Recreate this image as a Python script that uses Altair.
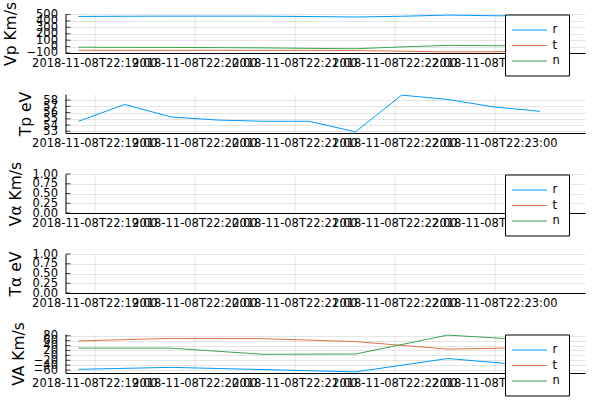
import altair as alt
import pandas as pd

# ---------------- data ----------------
times = [
    "2018-11-08T22:18:50.5", "2018-11-08T22:19:18.2", "2018-11-08T22:19:45.9",
    "2018-11-08T22:20:13.6", "2018-11-08T22:20:41.3", "2018-11-08T22:21:09.0",
    "2018-11-08T22:21:36.7", "2018-11-08T22:22:04.4", "2018-11-08T22:22:32.1",
    "2018-11-08T22:22:59.8", "2018-11-08T22:23:27.5",
]
components = ["r", "t", "n"]
palette = ["#009AFA", "#E36F47", "#3EA44E"]

vp_r = [469, 472, 474, 474, 473, 468, 460, 472, 490, 480, 478]
vp_t = [-57, -58, -58, -59, -60, -60, -62, -72, -83, -80, -78]
vp_n = [-10, -12, -14, -16, -20, -28, -34, -5, 18, 14, 10]

tp = [54.6, 57.3, 55.3, 54.8, 54.6, 54.6, 52.9, 58.8, 58.1, 56.9, 56.2]

va_times = times[::2]
va_r = [-57, -49, -58, -67.5, -13, -45]
va_t = [58.8, 69.4, 68.1, 56.1, 25.5, 32]
va_n = [29.5, 29.5, 4.3, 5.6, 82.7, 60]

vp_ticks = [-100, 0, 100, 200, 300, 400, 500]
tp_ticks = [53, 54, 55, 56, 57, 58]
unit_ticks = [0.0, 0.25, 0.5, 0.75, 1.0]
va_ticks = [-60, -40, -20, 0, 20, 40, 60, 80]
x_minutes = [19, 20, 21, 22, 23]

# ---------------- tables ----------------
def long_table(ts, series):
    rows = []
    for comp, vals in zip(components, series):
        for t, v in zip(ts, vals):
            rows.append({"time": t, "component": comp, "value": v})
    return pd.DataFrame(rows)

vp_df = long_table(times, [vp_r, vp_t, vp_n])
tp_df = pd.DataFrame({"time": times, "value": tp})
empty_df = pd.DataFrame({"time": [times[0]] * 3, "component": components, "value": [None] * 3})
va_df = long_table(va_times, [va_r, va_t, va_n])

FONT = "DejaVu Sans"
W, H = 519.5, 39

x_scale = alt.Scale(domain=[
    alt.DateTime(year=2018, month=11, date=8, hours=22, minutes=18, seconds=42, milliseconds=700),
    alt.DateTime(year=2018, month=11, date=8, hours=22, minutes=23, seconds=54, milliseconds=400),
])
x_axis = alt.Axis(
    values=[alt.DateTime(year=2018, month=11, date=8, hours=22, minutes=m) for m in x_minutes],
    format="%Y-%m-%dT%H:%M:%S", labelOverlap=False, labelFlush=False, labelBound=False,
    ticks=False, title=None, labelPadding=4, labelFontSize=11.5, labelFont=FONT,
    labelColor="black", domainColor="black", gridColor="black", gridOpacity=0.1,
)

SYM = 11.7  # symbol box size (sqrt of symbolSize)


def legend():
    return alt.Legend(
        orient="none", legendX=439.5, legendY=0.5, title=None,
        strokeColor="black", fillColor="white", padding=9, cornerRadius=0,
        symbolType="M-3,0H3", symbolSize=SYM * SYM, symbolStrokeWidth=1,
        symbolOffset=8.95, labelOffset=16.65,
        labelFontSize=11.5, labelFont=FONT, labelColor="black",
        rowPadding=3.5,
    )


def panel(df, title, title_x, domain, ticks, fmt, with_legend, single=False):
    y_scale = alt.Scale(domain=domain, nice=False, zero=False)
    y_axis = alt.Axis(
        values=ticks, format=fmt, title=title, ticks=False, labelPadding=8,
        labelFontSize=11.5, labelFont=FONT, labelColor="black",
        titleFont=FONT, titleFontSize=15.5, titleFontWeight="normal", titleColor="black",
        titleX=title_x, titleY=H / 2, titleAngle=270, titleAlign="center",
        titleBaseline="alphabetic",
        domainColor="black", gridColor="black", gridOpacity=0.1,
        labelOverlap=False, labelFlush=False, labelBound=False,
    )
    if single:
        color = alt.value(palette[0])
    else:
        color = alt.Color(
            "component:N",
            scale=alt.Scale(domain=components, range=palette),
            legend=legend() if with_legend else None,
        )
    line = alt.Chart(df).mark_line(strokeWidth=1, clip=True).encode(
        x=alt.X("time:T", scale=x_scale, axis=x_axis),
        y=alt.Y("value:Q", scale=y_scale, axis=y_axis),
        color=color,
    )
    tick_df = pd.DataFrame({"value": ticks})
    tick_marks = alt.Chart(tick_df).mark_tick(color="black", thickness=1, size=5).encode(
        x=alt.value(2.5),
        y=alt.Y("value:Q", scale=y_scale, axis=y_axis),
    )
    return alt.layer(line, tick_marks).properties(width=W, height=H)


p1 = panel(vp_df, "Vp Km/s", -50, [-100.2, 507.2], vp_ticks, "d", True)
p2 = panel(tp_df, "Tp eV", -35.5, [52.72, 58.98], tp_ticks, "d", False, single=True)
p3 = panel(empty_df, "Vα Km/s", -44.8, [0, 1], unit_ticks, ".2f", True)
p4 = panel(empty_df.assign(component="r"), "Tα eV", -44.8, [0, 1], unit_ticks, ".2f", False, single=True)
p5 = panel(va_df, "VA Km/s", -42.5, [-72, 87.2], va_ticks, "d", True)

chart = alt.vconcat(p1, p2, p3, p4, p5, spacing=41, bounds="flush").resolve_scale(
    color="independent"
).resolve_legend(color="independent").properties(
    padding={"left": 3.5, "top": 1, "right": 13, "bottom": 5},
    background="white",
).configure_view(stroke=None)

chart.save("out.html", embed_options={"renderer": "svg", "actions": False})
